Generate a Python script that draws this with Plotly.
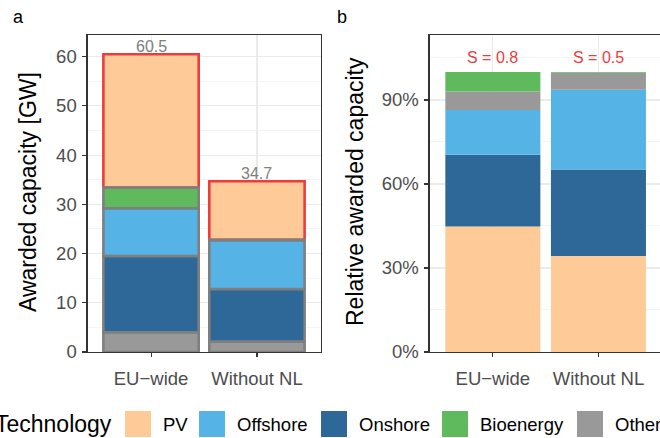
import plotly.graph_objects as go

# ---------------- data ----------------
categories = ["EU−wide", "Without NL"]
technologies = ["PV", "Offshore", "Onshore", "Bioenergy", "Other"]
pv = [27.1, 11.9]
offshore = [9.7, 9.9]
onshore = [15.5, 10.7]
bioenergy = [4.2, 0.1]
other = [4.0, 2.1]
s_values = [0.8, 0.5]

colors = {
    "PV": "#FECB98",
    "Offshore": "#56B3E6",
    "Onshore": "#2E6898",
    "Bioenergy": "#5FBA5E",
    "Other": "#999999",
}
series = {"PV": pv, "Offshore": offshore, "Onshore": onshore,
          "Bioenergy": bioenergy, "Other": other}

W, H = 660, 438
FONT = "Liberation Sans, Arial, Helvetica, sans-serif"
RED = "#EE3B3D"
OUTLINE = "#7F7F7F"


def fx(p):
    return p / W


def fy(p):
    return 1 - p / H


totals = [sum(series[t][i] for t in technologies) for i in range(len(categories))]

fig = go.Figure()

# ---------------- panel a (absolute, stacked) ----------------
order_a = ["Other", "Onshore", "Offshore", "Bioenergy", "PV"]
bases_a = {}
run = [0.0] * len(categories)
for t in order_a:
    bases_a[t] = list(run)
    run = [run[i] + series[t][i] for i in range(len(categories))]

draw_a = ["PV", "Other", "Onshore", "Offshore", "Bioenergy"]
for t in draw_a:
    fig.add_trace(go.Bar(
        x=categories, y=series[t], base=bases_a[t], name=t,
        width=0.9, xaxis="x", yaxis="y",
        marker=dict(color=colors[t],
                    line=dict(color=RED if t == "PV" else OUTLINE, width=2.6)),
        showlegend=False, hoverinfo="skip",
    ))

# ---------------- panel b (relative, stacked) ----------------
order_b = ["PV", "Onshore", "Offshore", "Other", "Bioenergy"]
run = [0.0] * len(categories)
for t in order_b:
    share = [series[t][i] / totals[i] for i in range(len(categories))]
    fig.add_trace(go.Bar(
        x=categories, y=share, base=list(run), name=t,
        width=0.9, xaxis="x2", yaxis="y2",
        marker=dict(color=colors[t], line=dict(width=0)),
        showlegend=False, hoverinfo="skip",
    ))
    run = [run[i] + share[i] for i in range(len(categories))]

annotations = []
# totals above bars in panel a
for c, tot in zip(categories, totals):
    annotations.append(dict(
        x=c, y=tot, xref="x", yref="y", text=f"{tot:.1f}", showarrow=False,
        yanchor="bottom", yshift=-3, font=dict(family=FONT, size=16, color="#808080")))
# S labels in panel b
for c, s in zip(categories, s_values):
    annotations.append(dict(
        x=c, y=1.05, xref="x2", yref="y2", text=f"S = {s}", showarrow=False,
        yanchor="middle", font=dict(family=FONT, size=16, color=RED)))

# panel letters
annotations.append(dict(x=fx(11), y=fy(17), xref="paper", yref="paper", text="a",
                        showarrow=False, xanchor="left", yanchor="middle",
                        font=dict(family=FONT, size=18, color="black")))
annotations.append(dict(x=fx(335), y=fy(17), xref="paper", yref="paper", text="b",
                        showarrow=False, xanchor="left", yanchor="middle",
                        font=dict(family=FONT, size=18, color="black")))

# axis titles
annotations.append(dict(x=fx(28), y=fy(192), xref="paper", yref="paper",
                        text="Awarded capacity [GW]", textangle=-90, showarrow=False,
                        xanchor="center", yanchor="middle",
                        font=dict(family=FONT, size=23, color="black")))
annotations.append(dict(x=fx(355), y=fy(192), xref="paper", yref="paper",
                        text="Relative awarded capacity", textangle=-90, showarrow=False,
                        xanchor="center", yanchor="middle",
                        font=dict(family=FONT, size=23, color="black")))

# legend (drawn as keys + labels, as in the original bottom legend)
shapes = []
annotations.append(dict(x=fx(114), y=fy(424), xref="paper", yref="paper",
                        text="Technology", showarrow=False, xanchor="right",
                        yanchor="middle", font=dict(family=FONT, size=23, color="black")))
key_left = {"PV": 125, "Offshore": 199, "Onshore": 321, "Bioenergy": 442, "Other": 577}
for t in technologies:
    k = key_left[t]
    shapes.append(dict(type="rect", xref="paper", yref="paper",
                       x0=fx(k), x1=fx(k + 26), y0=fy(437), y1=fy(411),
                       fillcolor=colors[t], line=dict(width=0), layer="above"))
    annotations.append(dict(x=fx(k + 36), y=fy(424), xref="paper", yref="paper",
                            text=t, showarrow=False, xanchor="left", yanchor="middle",
                            font=dict(family=FONT, size=18.5, color="black")))

axis_common = dict(
    showline=True, linecolor="#333333", linewidth=1.1,
    ticks="outside", ticklen=4, tickwidth=1.1, tickcolor="#333333",
    showgrid=True, gridcolor="#EBEBEB", gridwidth=1.1,
    zeroline=False, automargin=False,
    tickfont=dict(family=FONT, size=18.5, color="#4D4D4D"),
)

fig.update_layout(
    width=W, height=H, autosize=False,
    margin=dict(l=0, r=0, t=0, b=0, pad=0, autoexpand=False),
    paper_bgcolor="white", plot_bgcolor="white",
    barmode="overlay",
    showlegend=False,
    font=dict(family=FONT),
    xaxis=dict(domain=[fx(87.5), fx(320.5)], range=[-0.6, 1.6], anchor="y",
               mirror=True, type="category", ticklabelstandoff=6, **axis_common),
    yaxis=dict(domain=[fy(352), fy(35)], range=[0, 64.4], anchor="x",
               tickvals=[0, 10, 20, 30, 40, 50, 60], mirror=True,
               minor=dict(dtick=5, showgrid=True, gridcolor="#EBEBEB", gridwidth=0.55),
               ticklabelstandoff=2, **axis_common),
    xaxis2=dict(domain=[fx(429.5), 1.0], range=[-0.6, 1.583], anchor="y2",
                mirror=True, type="category", ticklabelstandoff=6, **axis_common),
    yaxis2=dict(domain=[fy(352), fy(35)], range=[0, 1.132], anchor="x2",
                tickvals=[0, 0.3, 0.6, 0.9], tickformat=".0%", mirror=False,
                minor=dict(tickvals=[0.15, 0.45, 0.75, 1.05], showgrid=True,
                           gridcolor="#EBEBEB", gridwidth=0.55),
                ticklabelstandoff=2, **axis_common),
    annotations=annotations,
    shapes=shapes,
)

fig.write_html(
    "out.html",
    config={"displayModeBar": False, "staticPlot": True, "responsive": False},
    post_script=(
        "document.documentElement.style.margin='0';"
        "document.body.style.margin='0';"
    ),
)
